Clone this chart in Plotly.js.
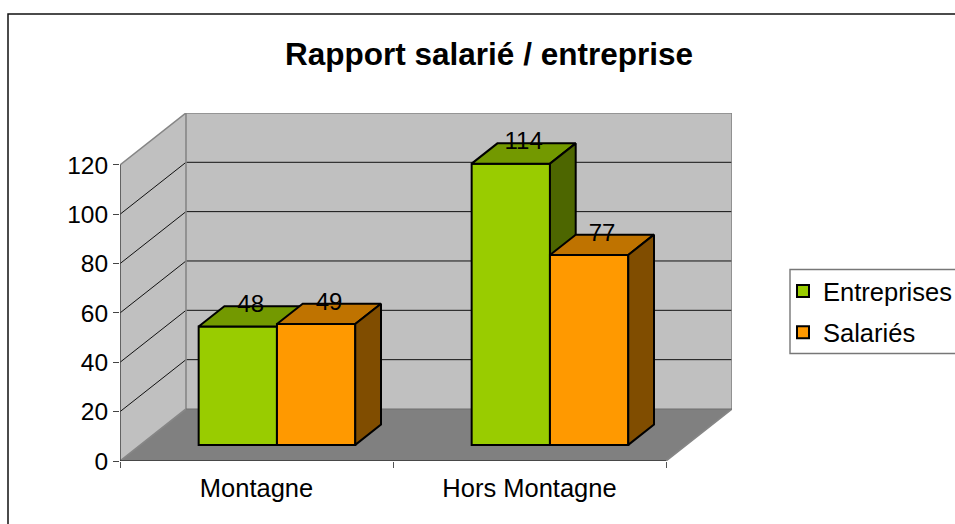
<!DOCTYPE html>
<html><head><meta charset="utf-8">
<script src="https://cdn.plot.ly/plotly-3.0.1.min.js"></script>
<style>html,body{margin:0;padding:0;background:#fff;overflow:hidden}</style>
</head><body><div id="chart" style="width:955px;height:524px"></div>
<script>
const categories = ["Montagne", "Hors Montagne"];
const entreprises = [48, 114];
const salaries = [49, 77];
const yTicks = [0, 20, 40, 60, 80, 100, 120];

const FONT = '"Liberation Sans", Arial, sans-serif';
const GREEN = {front: '#99CC00', top: '#739900', side: '#4D6600'};
const ORANGE = {front: '#FF9900', top: '#BF7300', side: '#804D00'};
const WALL = '#C0C0C0', FLOOR = '#808080', EDGE = '#868686';

// Layout of the pseudo-3D box
const L = 120, T = 113, B = 461, R = 732, W = 955, H = 524;
const catPx = 273, valPx = 2.467;
const depthX = 66 / catPx, depthY = 52 / valPx;
const barFront = 0.31, barBack = 0.70;
const barWidth = 0.2868;
const xMax = (R - L) / catPx, yMax = (B - T) / valPx;
const nCat = categories.length, vMax = yTicks[yTicks.length - 1];

// Project (category position, value, depth) to plain axis units
const px = (c, d) => c + d * depthX;
const py = (v, d) => v + d * depthY;
function poly(pts, fill, line, lw, axes) {
  return Object.assign({
    type: 'scatter', mode: line ? 'lines' : 'none',
    x: pts.map(p => px(p[0], p[2])), y: pts.map(p => py(p[1], p[2])),
    fill: fill ? 'toself' : 'none', fillcolor: fill || undefined,
    line: {color: line || 'rgba(0,0,0,0)', width: lw || 1, simplify: false},
    cliponaxis: false, showlegend: false, hoverinfo: 'skip'
  }, axes || {});
}

const traces = [];
// Walls and floor
traces.push(poly([[0, 0, 0], [0, vMax, 0], [0, vMax, 1], [0, 0, 1], [0, 0, 0]], WALL));
traces.push(poly([[0, 0, 1], [0, vMax, 1], [nCat, vMax, 1], [nCat, 0, 1], [0, 0, 1]], WALL));
traces.push(poly([[0, 0, 0], [nCat, 0, 0], [nCat, 0, 1], [0, 0, 1], [0, 0, 0]], FLOOR));
// Gridlines
yTicks.slice(1, -1).forEach(v => {
  traces.push(poly([[0, v, 0], [0, v, 1], [nCat, v, 1]], null, '#111', 1));
});
// Wall edges
traces.push(poly([[0, 0, 0], [0, 0, 1], [0, vMax, 1], [0, vMax, 0]], null, EDGE, 1.6));
traces.push(poly([[0, vMax, 1], [nCat, vMax, 1], [nCat, 0, 1], [nCat, 0, 0]], null, EDGE, 1.6));
traces.push(poly([[0, 0, 1], [nCat, 0, 1]], null, '#6e6e6e', 1.2));
// Axis lines
traces.push(poly([[0, 0, 0], [0, vMax, 0]], null, '#444', 1.5));
traces.push(poly([[0, 0, 0], [nCat, 0, 0]], null, '#111', 1.2));

function series(name, values, colors, seriesIndex, axes) {
  const out = [];
  const centers = categories.map((_, i) => i + 0.5 + barFront * depthX + (seriesIndex - 0.5) * barWidth);
  const base = barFront * depthY;
  values.forEach((v, i) => {
    const x0 = centers[i] - barFront * depthX - barWidth / 2, x1 = x0 + barWidth;
    out.push(poly([[x0, v, barFront], [x1, v, barFront], [x1, v, barBack], [x0, v, barBack], [x0, v, barFront]], colors.top, '#000', 2, axes));
    out.push(poly([[x1, 0, barFront], [x1, v, barFront], [x1, v, barBack], [x1, 0, barBack], [x1, 0, barFront]], colors.side, '#000', 2, axes));
  });
  out.push(Object.assign({
    type: 'bar', name: name, x: centers, y: values,
    base: values.map(() => base), width: barWidth,
    marker: {color: colors.front, line: {color: '#000', width: 2}},
    legendgroup: name, hoverinfo: 'skip'
  }, axes || {}));
  return out;
}
function labels(values, seriesIndex, axes) {
  return Object.assign({
    type: 'scatter', mode: 'text',
    x: categories.map((_, i) => i + 0.5 + (barFront + barBack) / 2 * depthX + (seriesIndex - 0.5) * barWidth),
    y: values.map(v => v + barBack * depthY),
    text: values.map(String), textposition: 'middle center',
    textfont: {family: FONT, size: 24, color: '#000'},
    cliponaxis: false, showlegend: false, hoverinfo: 'skip'
  }, axes);
}

const greenAxes = {xaxis: 'x2', yaxis: 'y2'};
const orangeAxes = {xaxis: 'x3', yaxis: 'y3'};
traces.push(...series('Entreprises', entreprises, GREEN, 0, greenAxes));
traces.push(...series('Salariés', salaries, ORANGE, 1, orangeAxes));
traces.push(labels(entreprises, 0, orangeAxes));
traces.push(labels(salaries, 1, orangeAxes));

const paperX = p => (p - L) / (R - L), paperY = p => (B - p) / (B - T);
const hiddenX = {type: 'linear', range: [0, xMax], showticklabels: false, ticks: '', showgrid: false, zeroline: false, showline: false, fixedrange: true};
const hiddenY = {type: 'linear', range: [0, yMax], showticklabels: false, ticks: '', showgrid: false, zeroline: false, showline: false, fixedrange: true};
const layout = {
  width: W, height: H, paper_bgcolor: '#fff', plot_bgcolor: 'rgba(0,0,0,0)',
  margin: {l: L, r: W - R, t: T, b: H - B, pad: 0, autoexpand: false},
  barmode: 'overlay',
  font: {family: FONT, size: 24, color: '#000'},
  title: {text: '<b>Rapport salarié / entreprise</b>', x: 489 / W, xanchor: 'center', xref: 'container',
          y: 1 - 54 / H, yanchor: 'middle', yref: 'container', font: {family: FONT, size: 31.5, color: '#000'}},
  xaxis: {type: 'linear', range: [0, xMax], tickmode: 'array', tickvals: categories.map((_, i) => i + 0.5), ticktext: categories,
          ticks: 'outside', ticklen: 4, tickcolor: 'rgba(0,0,0,0)', showgrid: false, zeroline: false, showline: false,
          tickfont: {family: FONT, size: 25.5, color: '#000'}, fixedrange: true},
  yaxis: {type: 'linear', range: [0, yMax], tickmode: 'array', tickvals: yTicks, ticktext: yTicks.map(String),
          ticks: 'outside', ticklen: 6, tickwidth: 1.2, tickcolor: '#444', showgrid: false, zeroline: false, showline: false,
          tickfont: {family: FONT, size: 24.5, color: '#000'}, fixedrange: true},
  xaxis2: Object.assign({}, hiddenX, {overlaying: 'x', anchor: 'y2', tickmode: 'array', tickvals: categories.map((_, i) => i).concat(nCat),
           ticks: 'outside', ticklen: 6, tickwidth: 1.2, tickcolor: '#555'}),
  yaxis2: Object.assign({}, hiddenY, {overlaying: 'y', anchor: 'x2'}),
  xaxis3: Object.assign({}, hiddenX, {overlaying: 'x', anchor: 'y3'}),
  yaxis3: Object.assign({}, hiddenY, {overlaying: 'y', anchor: 'x3'}),
  legend: {x: paperX(783), y: paperY(268), xanchor: 'left', yanchor: 'top', bgcolor: 'rgba(0,0,0,0)', borderwidth: 0,
           font: {family: FONT, size: 25.5, color: '#000'}, tracegroupgap: 5, traceorder: 'grouped', itemclick: false, itemdoubleclick: false},
  shapes: [
    {type: 'rect', xref: 'paper', yref: 'paper', x0: paperX(8), x1: paperX(975), y0: paperY(14), y1: paperY(540), line: {color: '#111', width: 1.5}, fillcolor: 'rgba(0,0,0,0)', layer: 'below'},
    {type: 'rect', xref: 'paper', yref: 'paper', x0: paperX(790), x1: paperX(975), y0: paperY(269.5), y1: paperY(353.5), line: {color: '#777', width: 1.4}, fillcolor: 'rgba(0,0,0,0)', layer: 'below'}
  ]
};
Plotly.newPlot('chart', traces, layout, {displayModeBar: false, responsive: false});
</script></body></html>
